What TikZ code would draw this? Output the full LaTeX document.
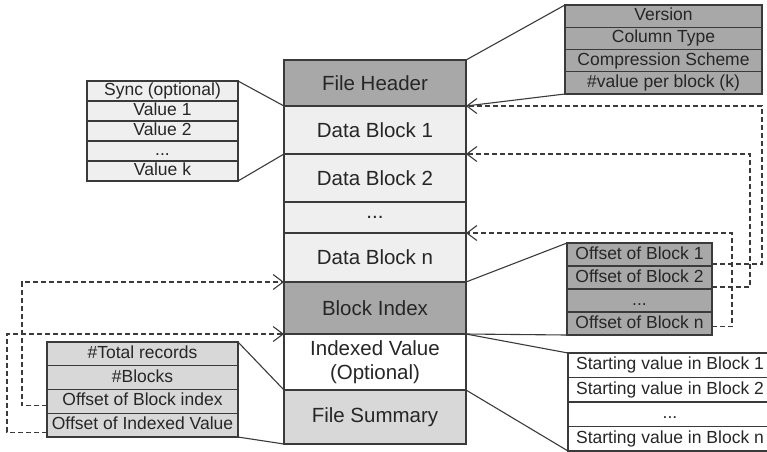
\documentclass[tikz,border=0pt]{standalone}
\usepackage{fontspec}
\setmainfont{Liberation Sans}
\usepackage{xcolor}
\usetikzlibrary{arrows.meta, positioning}

\definecolor{darkcell}{HTML}{A8A8A8}
\definecolor{midcell}{HTML}{D8D8D8}
\definecolor{lightcell}{HTML}{EFEFEF}
\definecolor{linegray}{HTML}{3A3A3A}

\begin{document}
\begin{tikzpicture}[
    x=1pt, y=-1pt,
    >={Straight Barb[length=10pt, width=15pt]},
    block/.style={draw=linegray, line width=1.1pt, fill=#1, text=black!85, minimum width=182pt, inner sep=0pt, outer sep=0pt, align=center, font=\fontsize{20.5}{24}\selectfont},
    block/.default={lightcell},
    cell/.style={draw=linegray, line width=1.1pt, fill=#1, text=black!85, inner sep=0pt, outer sep=0pt, text height=12.5pt, text depth=3.5pt, font=\fontsize{17.5}{18}\selectfont},
    cell/.default={white},
    hdrrow/.style={cell=darkcell, minimum width=197pt, minimum height=22.25pt},
    syncrow/.style={cell=lightcell, minimum width=151pt, minimum height=20pt},
    offrow/.style={cell=darkcell, minimum width=145pt, minimum height=23pt},
    sumrow/.style={cell=midcell, minimum width=191pt, minimum height=23.75pt},
    startrow/.style={cell=white, minimum width=204pt, minimum height=24.5pt},
    link/.style={draw=linegray, line width=1.1pt},
    ptr/.style={->, draw=linegray, line width=1.1pt, dash pattern=on 5pt off 3pt}
]
\useasboundingbox (0,0) rectangle (767,451);

% File layout
\node[block=darkcell, minimum height=46pt] (hdr) at (375, 83) {File Header};
\node[block, minimum height=48pt, below=0pt of hdr] (db1) {Data Block 1};
\node[block, minimum height=48pt, below=0pt of db1] (db2) {Data Block 2};
\node[block, minimum height=31pt, below=0pt of db2] (dots) {...};
\node[block, minimum height=49pt, below=0pt of dots] (dbn) {Data Block n};
\node[block=darkcell, minimum height=52pt, below=0pt of dbn] (bidx) {Block Index};
\node[block=white, minimum height=56pt, below=0pt of bidx] (ival) {Indexed Value\\(Optional)};
\node[block=midcell, minimum height=54pt, below=0pt of ival] (fsum) {File Summary};

% Header fields
\node[hdrrow] (ver) at (663.5, 16.1) {Version};
\node[hdrrow, below=0pt of ver] (ctype) {Column Type};
\node[hdrrow, below=0pt of ctype] (comp) {Compression Scheme};
\node[hdrrow, below=0pt of comp] (vpb) {\#value per block (k)};
\draw[link] (ver.north west) -- (hdr.north east);
\draw[link] (vpb.south west) -- (hdr.south east);

% Data block contents
\node[syncrow] (sync) at (162.5, 91) {Sync (optional)};
\node[syncrow, below=0pt of sync] (val1) {Value 1};
\node[syncrow, below=0pt of val1] (val2) {Value 2};
\node[syncrow, below=0pt of val2] (vdots) {...};
\node[syncrow, below=0pt of vdots] (valk) {Value k};
\draw[link] (sync.north east) -- (db1.north west);
\draw[link] (valk.south east) -- (db1.south west);

% Block index contents
\node[offrow] (off1) at (639.5, 254.5) {Offset of Block 1};
\node[offrow, below=0pt of off1] (off2) {Offset of Block 2};
\node[offrow, below=0pt of off2] (offd) {...};
\node[offrow, below=0pt of offd] (offn) {Offset of Block n};
\draw[link] (off1.north west) -- (bidx.north east);
\draw[link] (offn.south west) -- (bidx.south east);

% Indexed value contents
\node[startrow] (sv1) at (670, 365.25) {Starting value in Block 1};
\node[startrow, below=0pt of sv1] (sv2) {Starting value in Block 2};
\node[startrow, below=0pt of sv2] (svd) {...};
\node[startrow, below=0pt of svd] (svn) {Starting value in Block n};
\draw[link] (sv1.north west) -- (ival.north east);
\draw[link] (svn.south west) -- (ival.south east);

% Summary contents
\node[sumrow] (tot) at (142.5, 353.9) {\#Total records};
\node[sumrow, below=0pt of tot] (nblk) {\#Blocks};
\node[sumrow, below=0pt of nblk] (obi) {Offset of Block index};
\node[sumrow, below=0pt of obi] (oiv) {Offset of Indexed Value};
\draw[link] (tot.north east) -- (fsum.north west);
\draw[link] (oiv.south east) -- (fsum.south west);

% Pointers
\draw[ptr] ([yshift=2pt]off1.south east) -- ++(50,0) |- (db1.north east);
\draw[ptr] ([yshift=2pt]off2.south east) -- ++(38,0) |- (db2.north east);
\draw[ptr] ([yshift=-3pt]offn.east) -- ++(20,0) |- (dbn.north east);
\draw[ptr] ([yshift=-4.5pt]obi.west) -- ++(-25,0) |- (bidx.north west);
\draw[ptr] ([yshift=-7pt]oiv.west) -- ++(-40,0) |- (ival.north west);

\end{tikzpicture}
\end{document}
